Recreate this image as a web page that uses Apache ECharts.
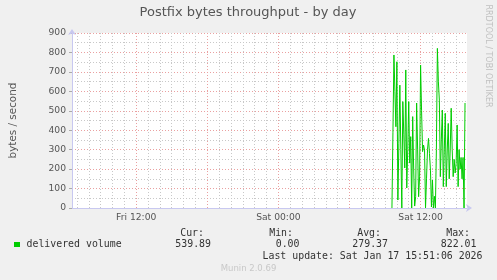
<!DOCTYPE html>
<html>
<head>
<meta charset="utf-8">
<script src="https://cdn.jsdelivr.net/npm/echarts@6/dist/echarts.min.js"></script>
<style>
html,body{margin:0;padding:0;background:#F0F0F0;}
#c{width:497px;height:280px;}
</style>
</head>
<body>
<div id="c"></div>
<script>
// ---- data (hours are counted from Fri 00:00) ----
var title = 'Postfix bytes throughput - by day';
var yName = 'bytes / second';
var seriesName = 'delivered volume';
var xMinHour = 6 + 35 / 60;      // Fri 06:35
var xMaxHour = 39 + 55 / 60;     // Sat 15:55
var xLabelHours = [12, 24, 36];
var xLabelTexts = ['Fri 12:00', 'Sat 00:00', 'Sat 12:00'];
var yTicks = [0, 100, 200, 300, 400, 500, 600, 700, 800, 900];
var dataStartHour = 33 + 35 / 60; // Sat 09:35
var stepMinutes = 5;
var values = [
  0, 390, 787, 600, 418, 752, 41, 330, 632, 300,
  0, 547, 380, 206, 710, 103, 300, 547, 231, 367,
  0, 470, 200, 10, 58, 540, 300, 58, 160, 735,
  500, 290, 324, 298, 0, 150, 300, 358, 280, 195,
  5, 144, 0, 60, 0, 300, 821, 650, 555, 161,
  350, 504, 110, 300, 487, 110, 300, 435, 150, 300,
  513, 300, 161, 250, 180, 230, 427, 110, 300, 200,
  260, 150, 260, 0, 540
];
var statHeads = ['Cur:', 'Min:', 'Avg:', 'Max:'];
var statVals = ['539.89', '0.00', '279.37', '822.01'];
var lastUpdate = 'Last update: Sat Jan 17 15:51:06 2026';
var footer = 'Munin 2.0.69';
var sideText = 'RRDTOOL / TOBI OETIKER';

// ---- build ----
var points = values.map(function (v, i) {
  return [dataStartHour + i * stepMinutes / 60, v];
});
var hourTicks = [];
for (var h = Math.ceil(xMinHour); h <= Math.floor(xMaxHour); h++) hourTicks.push(h);

var GRAY = '#c8c8c8', RED = '#eaa0a0', AXIS = '#c8c8f0';
var FONT = 'DejaVu Sans';
var MONO = 'DejaVu Sans Mono';

var chart = echarts.init(document.getElementById('c'), null, {renderer: 'canvas'});

var graphics = [
  {type: 'text', x: 248, y: 13, style: {text: title, font: '13px "' + FONT + '"', fill: '#555', align: 'center', verticalAlign: 'middle'}},
  {type: 'text', x: 488, y: 56, rotation: -Math.PI / 2, style: {text: sideText, font: '8px "' + FONT + '"', fill: '#c0c0c0', align: 'center', verticalAlign: 'middle'}},
  {type: 'rect', shape: {x: 14, y: 242, width: 6, height: 5}, style: {fill: '#00CC00'}},
  {type: 'text', x: 26.5, y: 244.5, style: {text: seriesName, font: '9.9px "' + MONO + '"', fill: '#333', align: 'left', verticalAlign: 'middle'}},
  {type: 'text', x: 482.5, y: 256.5, style: {text: lastUpdate, font: '9.9px "' + MONO + '"', fill: '#333', align: 'right', verticalAlign: 'middle'}},
  {type: 'text', x: 248.5, y: 269, style: {text: footer, font: '8.5px "' + FONT + '"', fill: '#c8c8c8', align: 'center', verticalAlign: 'middle'}}
];
var headRight = [204, 293, 381, 470];
var valRight = [211, 299.5, 388, 476.5];
for (var i = 0; i < 4; i++) {
  graphics.push({type: 'text', x: headRight[i], y: 233, style: {text: statHeads[i], font: '9.9px "' + MONO + '"', fill: '#333', align: 'right', verticalAlign: 'middle'}});
  graphics.push({type: 'text', x: valRight[i], y: 244.5, style: {text: statVals[i], font: '9.9px "' + MONO + '"', fill: '#333', align: 'right', verticalAlign: 'middle'}});
}

chart.setOption({
  animation: false,
  backgroundColor: '#F0F0F0',
  grid: {left: 67, top: 33, width: 400, height: 175, show: true, backgroundColor: '#ffffff', borderWidth: 0},
  xAxis: {
    type: 'value', min: xMinHour, max: xMaxHour,
    axisLine: {show: true, onZero: false, lineStyle: {color: AXIS, width: 1}, symbol: ['none', 'arrow'], symbolSize: [6, 6], symbolOffset: [0, 5]},
    axisTick: {show: false, customValues: hourTicks},
    axisLabel: {
      customValues: xLabelHours, color: '#555', fontFamily: FONT, fontSize: 9.2, margin: 5,
      formatter: function (v) { var k = xLabelHours.indexOf(Math.round(v)); return k >= 0 ? xLabelTexts[k] : ''; }
    },
    splitLine: {show: true, lineStyle: {color: [GRAY, GRAY, GRAY, GRAY, GRAY, RED], type: [1, 2], width: 1}}
  },
  yAxis: {
    type: 'value', min: 0, max: 900, interval: 100,
    name: yName, nameLocation: 'middle', nameGap: 54, nameRotate: 90,
    nameTextStyle: {color: '#555', fontFamily: FONT, fontSize: 10.4},
    axisLine: {show: true, lineStyle: {color: AXIS, width: 1}, symbol: ['none', 'arrow'], symbolSize: [6, 6], symbolOffset: [0, 4]},
    axisTick: {show: true, length: 3, lineStyle: {color: '#aaa'}},
    axisLabel: {color: '#555', fontFamily: FONT, fontSize: 9.2, margin: 6},
    splitLine: {show: true, lineStyle: {color: RED, type: [1, 2], width: 1}},
    minorTick: {show: false, splitNumber: 2},
    minorSplitLine: {show: true, lineStyle: {color: GRAY, type: [1, 2], width: 1}}
  },
  series: [{
    type: 'line', name: seriesName, data: points, showSymbol: false, symbol: 'none',
    lineStyle: {color: '#00CC00', width: 1}, itemStyle: {color: '#00CC00'}, z: 5
  }],
  graphic: graphics
});
</script>
</body>
</html>
